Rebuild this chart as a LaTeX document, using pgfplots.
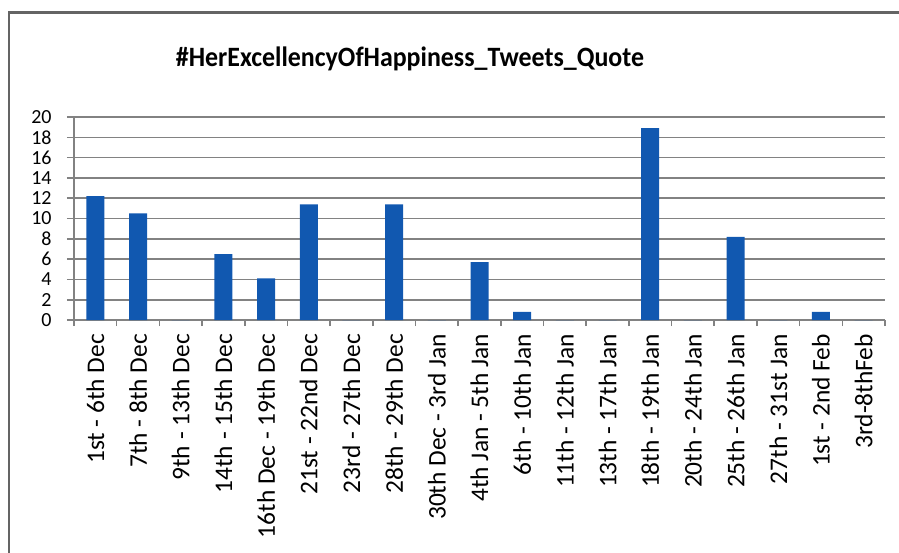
\documentclass[border=0pt]{standalone}
\usepackage{fontspec}
\setmainfont{Carlito}
\usepackage{pgfplots}
\pgfplotsset{compat=1.18}
\definecolor{barblue}{RGB}{17,88,176}
\definecolor{gridgray}{RGB}{130,130,130}
\definecolor{framegray}{RGB}{100,100,100}
\begin{document}
\begin{tikzpicture}
\useasboundingbox (0,0) rectangle (449.5pt,276pt);
\draw[line width=1.3pt, framegray] (4.4pt,-2pt) -- (4.4pt,269.6pt) -- (452pt,269.6pt);
\node[anchor=base, font=\fontsize{14}{16}\selectfont\bfseries, inner sep=0pt, xscale=0.925] at (205pt,242.6pt) {\#HerExcellencyOfHappiness\_Tweets\_Quote};
\begin{axis}[
  at={(37pt,116pt)}, anchor=south west,
  scale only axis, width=405.5pt, height=101.5pt,
  xmin=-0.5, xmax=18.5, ymin=0, ymax=20,
  ytick={0,2,...,20},
  xtick={0,...,18},
  xticklabels={1st - 6th Dec, 7th - 8th Dec, 9th - 13th Dec, 14th - 15th Dec, 16th Dec - 19th Dec, 21st - 22nd Dec, 23rd - 27th Dec, 28th - 29th Dec, 30th Dec - 3rd Jan, 4th Jan - 5th Jan, 6th - 10th Jan, 11th - 12th Jan, 13th - 17th Jan, 18th - 19th Jan, 20th - 24th Jan, 25th - 26th Jan, 27th - 31st Jan, 1st - 2nd Feb, 3rd-8thFeb},
  minor xtick={-0.5,0.5,...,18.5},
  axis x line*=bottom, axis y line*=left,
  axis line style={gridgray, line width=0.8pt, -},
  ymajorgrids, grid style={gridgray, line width=0.8pt},
  tick align=outside,
  major tick length=3.5pt, minor tick length=3pt,
  major x tick style={draw=none},
  minor x tick style={gridgray, line width=0.8pt},
  ytick style={gridgray, line width=0.8pt},
  /pgf/number format/assume math mode=true,
  xticklabel style={rotate=90, anchor=east, font=\fontsize{12.7}{14}\selectfont},
  yticklabel style={font=\fontsize{10}{12}\selectfont, inner sep=0pt, xshift=-7.5pt},
]
\addplot[ybar, bar width=9pt, fill=barblue, draw=none] coordinates {
(0,12.2) (1,10.5) (2,0) (3,6.5) (4,4.1) (5,11.4) (6,0) (7,11.4) (8,0) (9,5.7)
(10,0.8) (11,0) (12,0) (13,18.9) (14,0) (15,8.2) (16,0) (17,0.8) (18,0)
};
\end{axis}
\end{tikzpicture}
\end{document}
